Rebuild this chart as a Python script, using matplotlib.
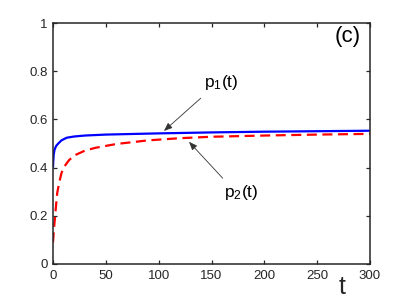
import matplotlib
matplotlib.use("Agg")
import matplotlib.pyplot as plt

# data
t1 = [0, 0.3, 0.7, 1.5, 3, 5, 8, 13, 20, 30, 50, 100, 150, 200, 250, 300]
p1 = [0.40, 0.43, 0.455, 0.475, 0.49, 0.50, 0.513, 0.524, 0.529, 0.533,
      0.537, 0.542, 0.546, 0.549, 0.551, 0.553]
t2 = [0, 1, 2, 4, 6, 8, 10, 15, 20, 30, 40, 60, 90, 120, 150, 200, 250, 300]
p2 = [0.09, 0.15, 0.20, 0.295, 0.34, 0.377, 0.40, 0.43, 0.45, 0.47, 0.482,
      0.498, 0.513, 0.522, 0.528, 0.533, 0.537, 0.54]
xticks = [0, 50, 100, 150, 200, 250, 300]
yticks = [0, 0.2, 0.4, 0.6, 0.8, 1]
ytick_labels = ["0", "0.2", "0.4", "0.6", "0.8", "1"]

plt.rcParams['font.family'] = ['Liberation Sans', 'DejaVu Sans']
plt.rcParams['mathtext.fontset'] = 'custom'
plt.rcParams['mathtext.rm'] = 'Liberation Sans'

fig = plt.figure(figsize=(4.09, 2.98), dpi=100)
ax = fig.add_axes([53/409, 34/298, 317/409, 241/298])

ax.plot(t1, p1, color='#0000ff', lw=1.6, solid_capstyle='butt')
ax.plot(t2, p2, color='#ff0000', lw=1.6, ls=(0, (4.5, 2.5)))

ax.set_xlim(0, 300)
ax.set_ylim(0, 1)
ax.set_xticks(xticks)
ax.set_yticks(yticks)
ax.set_yticklabels(ytick_labels)
ax.tick_params(direction='in', length=3, width=0.9, colors='#262626',
               labelsize=9.5, top=True, right=True, pad=4)
for s in ax.spines.values():
    s.set_color('#262626')
    s.set_linewidth(1.1)

ax.text(273.5, -0.045, 't', fontsize=18, ha='center', va='top', color='#262626')
ax.text(291, 0.942, '(c)', fontsize=16, ha='right', va='center', color='black')

ax.text(142.9, 0.736, r'$\mathregular{p_1(t)}$', fontsize=12.5, ha='left', va='baseline')
ax.text(161.8, 0.279, r'$\mathregular{p_2(t)}$', fontsize=12.5, ha='left', va='baseline')

ap = dict(arrowstyle='-|>,head_length=0.5,head_width=0.2', color='#333333',
          lw=0.6, shrinkA=0, shrinkB=0)
ax.annotate('', xy=(105.0, 0.552), xytext=(139.8, 0.688), arrowprops=ap)
ax.annotate('', xy=(128.7, 0.507), xytext=(160.6, 0.356), arrowprops=ap)

fig.savefig('out.png', dpi=100)
